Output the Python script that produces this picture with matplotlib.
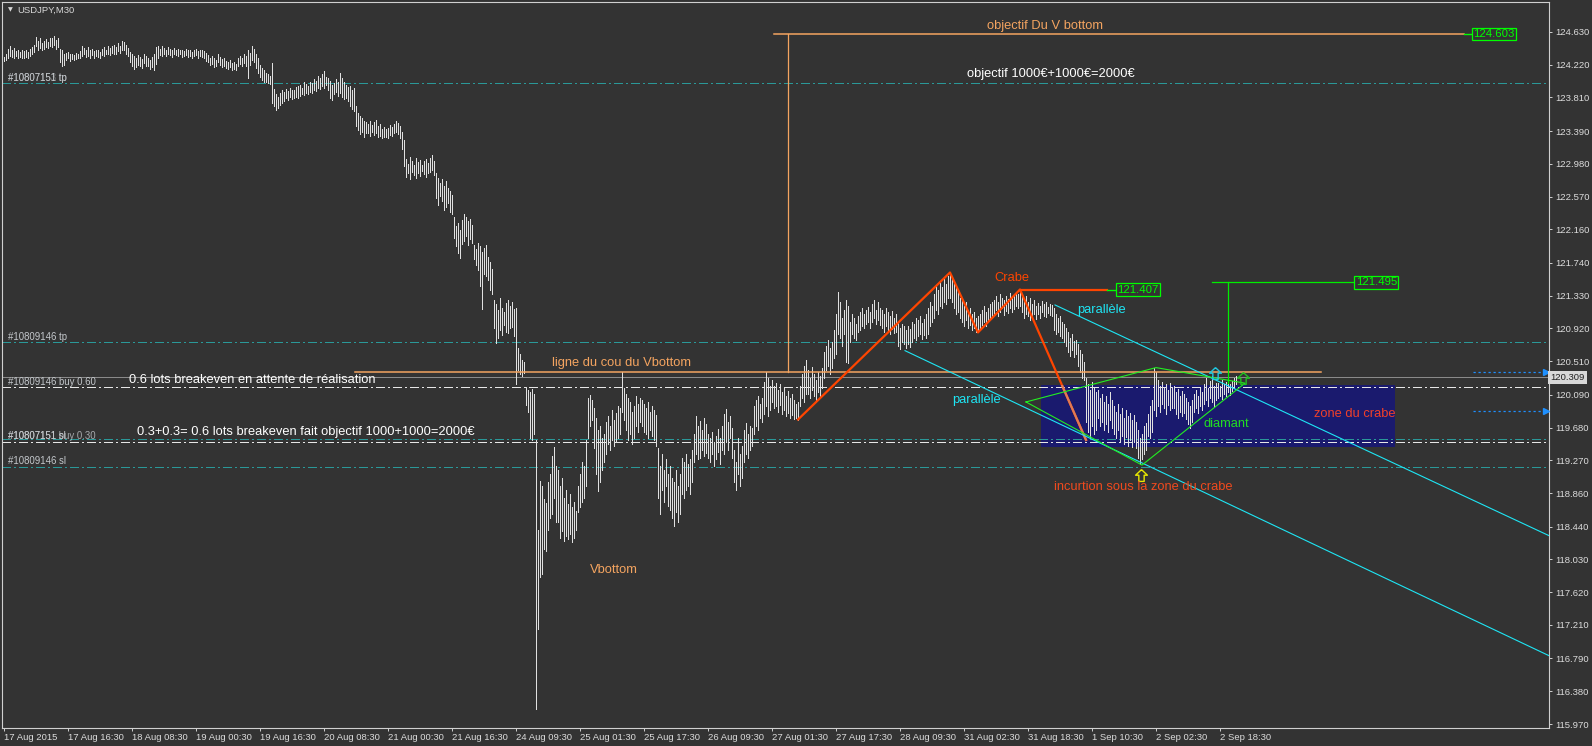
import matplotlib
matplotlib.use("Agg")
import matplotlib.pyplot as plt
import matplotlib.transforms as mtransforms
from matplotlib.path import Path
from matplotlib.patches import Rectangle

# USDJPY M30 bars (17 Aug -> 3 Sep 2015), high / low of each bar
highs = [
    # 17-18 Aug
    124.32, 124.36, 124.42, 124.45, 124.40, 124.43, 124.39, 124.41, 124.38, 124.40,
    124.39, 124.41, 124.38, 124.42, 124.44, 124.47,
    124.57, 124.52, 124.55, 124.49, 124.52, 124.54, 124.51, 124.56, 124.55, 124.58, 124.53, 124.55,
    124.42, 124.40, 124.36,
    124.37, 124.38, 124.35, 124.36, 124.34, 124.37, 124.35, 124.39,
    124.45, 124.43, 124.41, 124.44, 124.40, 124.42, 124.39, 124.41, 124.40, 124.38,
    124.42, 124.44, 124.41, 124.46, 124.43, 124.45, 124.47, 124.44, 124.49, 124.46,
    124.52, 124.50, 124.47, 124.43,
    124.38, 124.36, 124.33, 124.30, 124.34, 124.32, 124.29, 124.36, 124.33, 124.31, 124.28, 124.32, 124.35,
    # 19 Aug
    124.44, 124.45, 124.42, 124.46, 124.43, 124.41, 124.44, 124.42, 124.40, 124.43,
    124.41, 124.42, 124.40, 124.41, 124.39, 124.42, 124.40, 124.41, 124.38, 124.40,
    124.42, 124.39, 124.41, 124.40,
    124.39, 124.37, 124.34, 124.31, 124.33, 124.30, 124.28, 124.35, 124.32, 124.29,
    124.30, 124.27, 124.25, 124.28, 124.24, 124.26, 124.23,
    124.30, 124.33, 124.31, 124.35, 124.33, 124.40, 124.37, 124.45, 124.42, 124.36, 124.30,
    124.22, 124.18, 124.15, 124.12, 124.10, 124.08, 124.24,
    # 20 Aug
    123.92, 123.85, 123.82, 123.87, 123.90, 123.88, 123.92, 123.89, 123.93, 123.91, 123.90, 123.94,
    123.95, 123.97, 123.93, 124.00, 123.98, 123.96, 124.01, 123.99, 124.04, 124.02, 124.08, 124.06,
    124.10, 124.14, 124.07, 124.05,
    124.02, 123.97, 123.99, 124.04, 124.01, 124.12, 124.06, 124.00,
    123.97, 123.94, 123.96, 123.91, 123.93,
    123.70, 123.62, 123.58, 123.55, 123.52, 123.50,
    123.48, 123.52, 123.46, 123.50, 123.53, 123.45, 123.48, 123.42, 123.44, 123.41,
    123.43, 123.46, 123.44, 123.48, 123.51, 123.49, 123.45,
    123.38, 123.28,
    # 21 Aug
    123.04, 122.98, 123.06, 123.02, 122.97, 123.05, 123.00, 123.03, 122.96, 123.01,
    123.04, 122.99, 123.05, 123.09, 123.02,
    122.86, 122.80, 122.74, 122.79, 122.70, 122.76, 122.68, 122.64, 122.59,
    122.31, 122.20, 122.24, 122.15, 122.28, 122.35, 122.32, 122.26, 122.29, 122.22,
    121.97, 121.91, 121.99, 121.95, 121.88, 121.93, 121.96, 121.82, 121.75, 121.66,
    121.28, 121.22, 121.15, 121.30, 121.18, 121.13, 121.24, 121.27, 121.20, 121.25, 121.16, 121.18,
    # 24 Aug
    120.68, 120.60, 120.52, 120.50,
    120.19, 120.15, 120.12, 120.16, 120.10,
    119.53,
    118.40, 119.01, 118.95, 118.78, 118.74, 119.00, 119.10,
    119.32, 119.44, 119.20,
    119.15, 118.95, 119.05, 118.80, 118.90, 118.72, 118.85, 118.68, 118.75, 118.64,
    118.95, 119.10, 119.25, 119.20, 119.52,
    120.05, 120.09, 120.02,
    119.93, 119.80, 119.65, 119.70, 119.55, 119.60, 119.75,
    # 25 Aug
    119.82, 119.70, 119.90, 119.78, 119.86, 119.95, 119.92,
    120.37,
    120.18, 120.10, 120.05, 120.00, 119.88, 119.95, 120.08, 119.98, 120.05,
    120.02, 119.98, 119.93, 120.00, 119.88, 119.95, 119.90, 119.84,
    119.42, 119.20, 119.35, 119.15, 119.28,
    119.10, 119.20, 119.05, 119.00, 119.15, 118.95, 119.10,
    119.30, 119.25, 119.35, 119.22, 119.28, 119.40,
    # 26 Aug
    119.60, 119.82, 119.70, 119.76, 119.65, 119.80, 119.72,
    119.60, 119.55, 119.62, 119.50, 119.58, 119.66, 119.55, 119.70,
    119.85, 119.91, 119.75, 119.82, 119.68,
    119.40, 119.25, 119.55, 119.35, 119.45,
    119.65, 119.74, 119.60, 119.70, 119.68,
    119.95, 120.02, 120.07, 119.98, 120.05,
    120.25, 120.37, 120.30, 120.20,
    # 27 Aug
    120.28, 120.20, 120.24, 120.15, 120.22, 120.12, 120.18, 120.08, 120.14, 120.05,
    120.10, 120.02, 119.98,
    120.00,
    120.20, 120.35, 120.45, 120.53,
    120.40, 120.30, 120.44, 120.35, 120.28, 120.38, 120.32, 120.42,
    120.62, 120.70, 120.78, 120.68, 120.75,
    120.90, 121.10, 121.37,
    121.25, 121.05, 121.15, 121.28,
    121.20, 121.00, 121.10, 121.05, 120.98, 121.08, 121.12,
    121.18, 121.10, 121.15, 121.19, 121.12,
    121.22, 121.28, 121.15, 121.25, 121.18,
    # 28 Aug
    121.15, 121.10, 121.18, 121.12, 121.08, 121.14, 121.05, 121.10,
    121.00, 120.92, 120.98, 120.95, 120.90,
    120.95, 120.91, 121.00, 120.98, 121.05, 121.02, 121.07, 120.99, 121.04,
    121.10, 121.18, 121.25, 121.20,
    121.35, 121.45, 121.40, 121.50, 121.44, 121.55, 121.48, 121.58,
    121.62,
    121.55, 121.48, 121.42, 121.38, 121.30,
    121.28, 121.20, 121.25, 121.15, 121.18, 121.10, 121.12, 121.05, 121.08,
    # 31 Aug
    121.10, 121.15, 121.20, 121.12, 121.18, 121.22, 121.25,
    121.28, 121.32, 121.25, 121.35, 121.30, 121.27, 121.33, 121.29, 121.36, 121.31,
    121.34, 121.38, 121.35,
    121.41,
    121.35, 121.28, 121.32, 121.25, 121.30, 121.22, 121.27, 121.20,
    121.24, 121.20, 121.26, 121.22, 121.25, 121.19, 121.23, 121.21,
    121.18, 121.10, 121.05, 121.08, 121.00,
    120.98, 120.92,
    120.88, 120.80, 120.85, 120.76, 120.78,
    120.72, 120.65, 120.60, 120.50,
    # 1 Sep
    120.30, 120.22, 120.15, 120.25, 120.18, 120.12,
    120.15, 120.05, 120.10, 120.00, 120.08, 119.98, 120.12, 120.02,
    119.95, 119.88, 119.98, 119.85, 119.92, 119.80, 119.90, 119.82, 119.86, 119.78,
    119.84, 119.75,
    119.65, 119.55, 119.60, 119.70, 119.74,
    119.85, 119.95, 120.03,
    120.43, 120.38,
    # 2 Sep
    120.28, 120.20, 120.25, 120.18, 120.22, 120.15, 120.24, 120.19,
    120.20, 120.12, 120.16, 120.08, 120.14, 120.10, 120.05,
    120.00, 119.95, 120.02,
    120.10, 120.15, 120.08, 120.18, 120.12,
    120.22, 120.30, 120.18, 120.26, 120.32, 120.20, 120.24,
    120.24, 120.20, 120.27, 120.22, 120.25, 120.28, 120.23, 120.26,
    120.30, 120.32,
]
lows = [
    124.27, 124.28, 124.31, 124.33, 124.32, 124.30, 124.33, 124.31, 124.32, 124.30,
    124.31, 124.32, 124.30, 124.33, 124.35, 124.38,
    124.46, 124.41, 124.43, 124.40, 124.42, 124.44, 124.43, 124.45, 124.44, 124.47, 124.42, 124.44,
    124.25, 124.20, 124.22,
    124.28, 124.30, 124.27, 124.29, 124.28, 124.29, 124.30, 124.31,
    124.33, 124.35, 124.32, 124.33, 124.31, 124.34, 124.31, 124.33, 124.32, 124.30,
    124.34, 124.33, 124.35, 124.36, 124.34, 124.37, 124.36, 124.35, 124.39, 124.37,
    124.41, 124.40, 124.36, 124.33,
    124.26, 124.21, 124.17, 124.19, 124.22, 124.20, 124.18, 124.24, 124.21, 124.20, 124.17, 124.19, 124.16,
    124.23, 124.30, 124.34, 124.33, 124.36, 124.33, 124.35, 124.34, 124.32, 124.35,
    124.34, 124.33, 124.35, 124.32, 124.33, 124.34, 124.32, 124.33, 124.31, 124.33,
    124.34, 124.31, 124.33, 124.32,
    124.30, 124.27, 124.25, 124.22, 124.23, 124.19, 124.20, 124.26, 124.22, 124.19,
    124.21, 124.18, 124.17, 124.19, 124.16, 124.17, 124.15,
    124.20, 124.23, 124.21, 124.24, 124.20, 124.06, 124.22, 124.28, 124.25, 124.18, 124.12,
    124.07, 124.03, 124.01, 124.00, 123.99, 123.98, 123.74,
    123.70, 123.65, 123.68, 123.72, 123.74, 123.77, 123.80, 123.78, 123.81, 123.79, 123.80, 123.82,
    123.80, 123.83, 123.85, 123.84, 123.87, 123.85, 123.88, 123.86, 123.90, 123.89, 123.93, 123.92,
    123.95, 123.93, 123.97, 123.90,
    123.80, 123.78, 123.85, 123.88, 123.83, 123.86, 123.82, 123.79,
    123.80, 123.77, 123.70, 123.66, 123.64,
    123.45, 123.40, 123.35, 123.38, 123.32, 123.36,
    123.36, 123.33, 123.38, 123.34, 123.37, 123.31, 123.33, 123.30, 123.32, 123.31,
    123.30, 123.34, 123.33, 123.36, 123.38, 123.35, 123.30,
    123.17, 122.95,
    122.82, 122.86, 122.79, 122.88, 122.84, 122.80, 122.87, 122.83, 122.89, 122.85,
    122.81, 122.86, 122.88, 122.90, 122.84,
    122.55, 122.47, 122.58, 122.52, 122.40, 122.44, 122.49, 122.38, 122.35,
    122.05, 121.95, 121.86, 121.80, 121.98, 122.02, 122.08, 121.96, 122.04, 121.99,
    121.79, 121.72, 121.65, 121.45, 121.16, 121.60, 121.58, 121.52, 121.40, 121.35,
    120.92, 120.74, 120.80, 120.90, 120.84, 120.96, 120.88, 120.86, 120.93, 120.94, 120.82, 120.22,
    120.40, 120.35, 120.33, 120.36,
    119.96, 119.88, 119.55, 119.52, 119.60,
    116.16,
    117.16, 117.81, 117.85, 118.16, 118.13, 118.40, 118.55,
    118.60, 118.80, 118.50,
    118.50, 118.30, 118.38, 118.26, 118.32, 118.28, 118.35, 118.25, 118.30, 118.40,
    118.62, 118.68, 118.75, 118.80, 118.95,
    119.55, 119.70, 119.78,
    119.42, 119.10, 118.88, 119.00, 119.15, 119.25, 119.35,
    119.48, 119.40, 119.52, 119.45, 119.50, 119.55, 119.60,
    119.88,
    119.78, 119.65, 119.52, 119.60, 119.48, 119.55, 119.70, 119.62, 119.75,
    119.70, 119.62, 119.60, 119.55, 119.65, 119.58, 119.52, 119.45,
    118.80, 118.60, 118.90, 118.75, 118.95,
    118.70, 118.65, 118.55, 118.45, 118.62, 118.50, 118.60,
    118.85, 118.80, 118.90, 118.95, 118.85, 119.00,
    119.25, 119.35, 119.28, 119.30, 119.40, 119.32, 119.36,
    119.30, 119.25, 119.35, 119.20, 119.28, 119.38, 119.22, 119.40,
    119.35, 119.50, 119.40, 119.55, 119.30,
    119.00, 118.90, 119.10, 118.95, 119.05,
    119.25, 119.35, 119.30, 119.40, 119.45,
    119.60, 119.70, 119.65, 119.80, 119.75,
    119.85, 119.95, 119.82, 119.90,
    120.00, 119.92, 119.95, 119.88, 119.96, 119.85, 119.90, 119.82, 119.86, 119.80,
    119.84, 119.79, 119.80,
    119.78,
    119.95, 120.05, 120.00, 120.10,
    120.10, 120.05, 120.15, 120.08, 120.02, 120.12, 120.06, 120.18,
    120.30, 120.40, 120.45, 120.35, 120.42,
    120.55, 120.60, 120.85,
    120.80, 120.70, 120.85, 120.50,
    120.49, 120.75, 120.85, 120.80, 120.78, 120.88, 120.90,
    120.95, 120.92, 120.98, 121.00, 120.93,
    121.00, 121.05, 120.98, 121.02, 120.96,
    120.92, 120.88, 120.95, 120.90, 120.85, 120.91, 120.86, 120.88,
    120.70, 120.66, 120.75, 120.72, 120.68,
    120.72, 120.69, 120.75, 120.80, 120.78, 120.82, 120.85, 120.79, 120.84,
    120.80, 120.85, 120.95, 121.00,
    121.05, 121.15, 121.10, 121.20, 121.18, 121.25, 121.22, 121.30,
    121.30,
    121.25, 121.18, 121.10, 121.12, 121.05,
    121.00, 120.95, 121.02, 120.92, 120.96, 120.90, 120.93, 120.88, 120.87,
    120.92, 120.96, 121.00, 120.95, 121.02, 121.05, 121.08,
    121.10, 121.15, 121.08, 121.12, 121.18, 121.09, 121.14, 121.11, 121.17, 121.13,
    121.16, 121.20, 121.18,
    121.20,
    121.12, 121.05, 121.10, 121.08, 121.03, 121.06, 121.10, 121.04,
    121.10, 121.05, 121.12, 121.08, 121.06, 121.11, 121.09, 121.07,
    120.90, 120.85, 120.88, 120.82, 120.80,
    120.75, 120.70,
    120.62, 120.58, 120.65, 120.56, 120.60,
    120.45, 120.38, 120.30, 120.28,
    119.75, 119.62, 119.55, 119.70, 119.60, 119.65,
    119.80, 119.70, 119.75, 119.65, 119.72, 119.62, 119.78, 119.68,
    119.60, 119.55, 119.65, 119.50, 119.58, 119.48, 119.56, 119.45, 119.52, 119.44,
    119.50, 119.42,
    119.30, 119.22, 119.28, 119.35, 119.40,
    119.58, 119.55, 119.62,
    119.90, 119.82,
    119.95, 119.88, 119.98, 119.92, 119.85, 119.96, 119.90, 119.93,
    119.92, 119.85, 119.80, 119.88, 119.82, 119.86, 119.79,
    119.72, 119.68, 119.75,
    119.88, 119.92, 119.86, 119.95, 119.90,
    119.98, 120.02, 119.95, 120.05, 120.00, 119.94, 120.03,
    120.05, 120.08, 120.04, 120.10, 120.07, 120.12, 120.09, 120.14,
    120.18, 120.22,
]

date_labels = ["17 Aug 2015", "17 Aug 16:30", "18 Aug 08:30", "19 Aug 00:30", "19 Aug 16:30",
               "20 Aug 08:30", "21 Aug 00:30", "21 Aug 16:30", "24 Aug 09:30", "25 Aug 01:30",
               "25 Aug 17:30", "26 Aug 09:30", "27 Aug 01:30", "27 Aug 17:30", "28 Aug 09:30",
               "31 Aug 02:30", "31 Aug 18:30", "1 Sep 10:30", "2 Sep 02:30", "2 Sep 18:30"]
price_ticks = [124.630, 124.220, 123.810, 123.390, 122.980, 122.570, 122.160, 121.740,
               121.330, 120.920, 120.510, 120.090, 119.680, 119.270, 118.860, 118.440,
               118.030, 117.620, 117.210, 116.790, 116.380, 115.970]

# order levels
tp_levels = [123.99, 120.755]
sl_levels = [119.533, 119.18]
entry_levels = [120.185, 119.495]
bid = 120.309
pending_levels = [120.376, 119.888]
neck_level = 120.372
v_target = 124.603
crab_target = 121.407
diamond_target = 121.495

# drawn objects (x in bar index, y in price)
crab_x = [397, 473, 487, 508, 541]
crab_y = [119.78, 121.62, 120.87, 121.407, 119.525]
diamond_x = [511, 576, 620.5, 569, 511]
diamond_y = [120.00, 120.43, 120.235, 119.21, 120.00]
par_up_x = [525.5, 772.5]
par_up_y = [121.214, 118.327]
par_lo_x = [450.5, 772.5]
par_lo_y = [120.642, 116.825]
zone_x = [518.5, 695.5]
zone_y = [119.44, 120.213]

BG = '#333333'
FG = '#d0d0d0'
SAND = '#f4a460'
ORED = '#ff4500'
LIME = '#22ee22'
CYAN = '#1ee6f5'
TEAL = '#2a9898'
FONT = 'Liberation Sans'
dashdot = (0, (9, 4, 2, 4))

W, H = 1592, 746
fig = plt.figure(figsize=(W / 100, H / 100), dpi=100, facecolor=BG)
ax = fig.add_axes([2 / W, 18 / H, 1547 / W, 726 / H])
ax.set_facecolor(BG)
ax.set_xlim(-1, 772.5)
ax.set_ylim(115.92, 125.005)
for s in ax.spines.values():
    s.set_color(FG)
    s.set_linewidth(0.8)

# price bars
xs = list(range(len(highs)))
ax.vlines(xs, lows, highs, colors='#e0e0e0', linewidth=0.72, antialiased=False, zorder=3)

# zone du crabe
zone = Rectangle((zone_x[0], zone_y[0]), zone_x[1] - zone_x[0], zone_y[1] - zone_y[0],
                 facecolor='#1a1a6e', edgecolor='none', zorder=1)
ax.add_patch(zone)

# order lines
for lv in tp_levels + sl_levels:
    ax.axhline(lv, color=TEAL, lw=0.72, ls=dashdot, antialiased=False, zorder=2)
for lv in entry_levels:
    ax.axhline(lv, color='#e6e6e6', lw=0.72, ls=dashdot, antialiased=False, zorder=2)
ax.axhline(bid, color='#8a8a8a', lw=0.72, antialiased=False, zorder=2)
for lv in pending_levels:
    ax.plot([734.5, 771], [lv, lv], color='#1e90ff', lw=0.9, ls=(0, (1.8, 2.2)), zorder=4)
    ax.plot([771], [lv], marker='>', color='#1e90ff', ms=4.5, zorder=4)

# V bottom objects
ax.plot([175.5, 658.5], [neck_level, neck_level], color=SAND, lw=1.1, zorder=4)
ax.plot([385, 730], [v_target, v_target], color=SAND, lw=1.1, zorder=4)
ax.plot([392, 392], [v_target, neck_level], color=SAND, lw=0.9, zorder=4)
ax.plot([730, 734], [v_target, v_target], color='#00ff00', lw=1, zorder=4)

# crab
ax.plot(crab_x, crab_y, color=ORED, lw=1.6, zorder=5, solid_joinstyle='round')
lower, = ax.plot(crab_x[3:], crab_y[3:], color='#e07a55', lw=1.6, zorder=5)
lower.set_clip_path(zone)
ax.plot([crab_x[3], 551.3], [crab_target, crab_target], color=ORED, lw=1.6, zorder=5)
ax.plot([551.3, 556.3], [crab_target, crab_target], color='#00ff00', lw=1, zorder=5)

# parallels and diamond
ax.plot(par_up_x, par_up_y, color=CYAN, lw=0.8, zorder=5)
ax.plot(par_lo_x, par_lo_y, color=CYAN, lw=0.8, zorder=5)
ax.plot(diamond_x, diamond_y, color=LIME, lw=0.8, zorder=5)

# diamond target
ax.plot([603.8, 675.5], [diamond_target, diamond_target], color='#00ee00', lw=0.9, zorder=5)
ax.plot([611.8, 611.8], [diamond_target, 120.237], color='#00ee00', lw=0.9, zorder=5)

# hollow arrows
arrow = Path([(0, 1), (1, 0.05), (0.45, 0.05), (0.45, -1), (-0.45, -1), (-0.45, 0.05),
              (-1, 0.05), (0, 1)])
for ax_x, ax_y, col in [(568.7, 119.08, '#e8e800'), (605.7, 120.357, '#20c8e0'),
                        (619.5, 120.30, '#20c020')]:
    ax.plot([ax_x], [ax_y], marker=arrow, ms=8.5, mfc='none', mec=col, mew=1.0, zorder=6)

# price boxes
def price_box(x, y, txt):
    ax.text(x, y, txt, color='#00ff00', fontsize=8.2, family=FONT, ha='left', va='center',
            zorder=7, bbox=dict(boxstyle='square,pad=0.12', fc=BG, ec='#00ff00', lw=0.9))

price_box(734.6, v_target, "124.603")
price_box(556.6, crab_target, "121.407")
price_box(675.8, diamond_target, "121.495")

# object texts
tk = dict(family=FONT, fontsize=9.3, zorder=7)
ax.text(520.5, 124.71, "objectif Du V bottom", color=SAND, ha='center', va='center', **tk)
ax.text(523.5, 124.105, "objectif 1000€+1000€=2000€", color='white', ha='center', va='center', **tk)
ax.text(503.8, 121.55, "Crabe", color=ORED, ha='center', va='center', **tk)
ax.text(548.5, 121.15, "parallèle", color=CYAN, ha='center', va='center', **tk)
ax.text(486.3, 120.03, "parallèle", color=CYAN, ha='center', va='center', **tk)
ax.text(611.3, 119.725, "diamant", color='#22dd22', ha='center', va='center', **tk)
ax.text(675.5, 119.85, "zone du crabe", color='#f0402a', ha='center', va='center', **tk)
ax.text(569.8, 118.93, "incurtion sous la zone du crabe", color='#f04a1e', ha='center', va='center', **tk)
ax.text(308.8, 120.49, "ligne du cou du Vbottom", color=SAND, ha='center', va='center', **tk)
ax.text(304.8, 117.90, "Vbottom", color=SAND, ha='center', va='center', **tk)
ax.text(62.5, 120.27, "0.6 lots breakeven en attente de réalisation", color='white',
        ha='left', va='center', **tk)
ax.text(66.5, 119.62, "0.3+0.3= 0.6 lots breakeven fait objectif 1000+1000=2000€", color='white',
        ha='left', va='center', **tk)

# order labels (MT4 draws the two sl / buy labels on top of each other)
lk = dict(family=FONT, fontsize=6.9, color='#c4c8cc', ha='left', va='center', zorder=7)
ax.text(2, 124.06, "#10807151 tp", **lk)
ax.text(2, 124.06, "#10807153 tp", alpha=0.5, **lk)
ax.text(2, 120.815, "#10809146 tp", **lk)
ax.text(2, 120.25, "#10809146 buy 0.60", **lk)
ax.text(2, 119.58, "#10807151 sl", **lk)
ax.text(2, 119.58, "#10807151 buy 0.30", alpha=0.8, **lk)
ax.text(2, 119.255, "#10809146 sl", **lk)

# axes
ax.yaxis.tick_right()
ax.set_yticks(price_ticks)
ax.set_yticklabels([f"{p:.3f}" for p in price_ticks])
ax.set_xticks(list(range(0, 32 * len(date_labels), 32)))
ax.set_xticklabels(date_labels)
for lab in ax.get_xticklabels():
    lab.set_ha('left')
ax.tick_params(axis='y', length=2.2, width=0.7, color=FG, labelcolor='#dcdcdc',
               labelsize=6.8, pad=2.5, labelfontfamily=FONT)
ax.tick_params(axis='x', length=2.2, width=0.7, color=FG, labelcolor='#dcdcdc',
               labelsize=6.8, pad=1.5, labelfontfamily=FONT)

# current price box on the axis
trans = mtransforms.blended_transform_factory(ax.transAxes, ax.transData)
ax.text(1.0008, bid, "120.309", transform=trans, color='#202020', fontsize=6.8, family=FONT,
        ha='left', va='center', clip_on=False, zorder=8,
        bbox=dict(boxstyle='square,pad=0.22', fc='#d8d8d8', ec='none'))

# title
fig.text(8 / W, 1 - 10 / H, "▼", color='#d8d8d8', fontsize=4.5, family='DejaVu Sans', va='center')
fig.text(17 / W, 1 - 10 / H, "USDJPY,M30", color='#d8d8d8', fontsize=6.8, family=FONT, va='center')

fig.savefig("out.png", dpi=100, facecolor=BG)
